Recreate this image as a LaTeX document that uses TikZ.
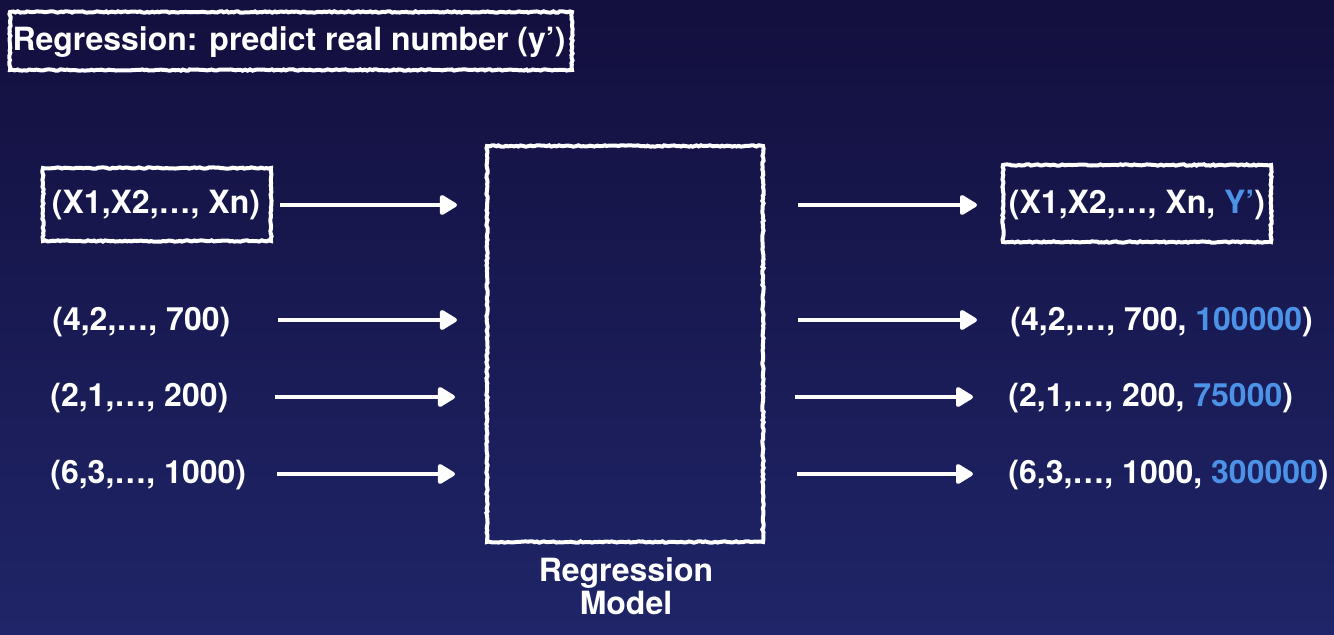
\documentclass[tikz,border=0pt]{standalone}
\usepackage{fontspec}
\setmainfont{TeX Gyre Heros}
\usetikzlibrary{arrows.meta,decorations.pathmorphing,calc}
\definecolor{bgtop}{HTML}{130F3E}
\definecolor{bgbot}{HTML}{1F2568}
\definecolor{ybl}{HTML}{4C92E6}
\tikzset{
  chalk/.style={draw=white, line width=2pt, decorate,
    decoration={random steps, segment length=1.2pt, amplitude=0.35pt}},
  txt/.style={text=white, font=\fontsize{16pt}{16.5pt}\selectfont\bfseries, inner sep=0pt},
  boxnode/.style={chalk, rectangle, inner sep=0pt},
  arr/.style={white, line width=2pt, -{Triangle[length=9.5pt,width=11pt,round]}},
}
\begin{document}
\begin{tikzpicture}[x=0.5pt,y=-0.5pt]
\useasboundingbox (0,0) rectangle (1334,635);
\shade[top color=bgtop, bottom color=bgbot] (0,0) rectangle (1334,635);

% title
\node[boxnode, minimum width=281pt, minimum height=29pt] (titlebox) at (291,41) {};
\node[txt] (title) at (289,42) {Regression: predict real number (y’)};

% model box
\node[boxnode, minimum width=138pt, minimum height=198pt] (model) at (625,344) {};
\node[txt, align=center] (modellabel) at (626,586) {Regression\\Model};

% input header
\node[boxnode, minimum width=114pt, minimum height=36.5pt] (inbox) at (157,204.5) {};
\node[txt] (intext) at (156,205) {(X1,X2,…, Xn)};

% output header
\node[boxnode, minimum width=134pt, minimum height=38.5pt] (outbox) at (1137,203.5) {};
\node[txt] (outtext) at (1137,205) {(X1,X2,…, Xn, \textcolor{ybl}{Y’})};

% input rows
\node[txt, anchor=west] (in1) at (52,322) {(4,2,…, 700)};
\node[txt, anchor=west] (in2) at (50,398) {(2,1,…, 200)};
\node[txt, anchor=west] (in3) at (50,475) {(6,3,…, 1000)};

% output rows
\node[txt, anchor=west] (out1) at (1010,322) {(4,2,…, 700, \textcolor{ybl}{100000})};
\node[txt, anchor=west] (out2) at (1008,398) {(2,1,…, 200, \textcolor{ybl}{75000})};
\node[txt, anchor=west] (out3) at (1008,475) {(6,3,…, 1000, \textcolor{ybl}{300000})};

% arrow endpoints
\coordinate (l0s) at (280,205); \coordinate (l0e) at (457,205);
\coordinate (l1s) at (278,320); \coordinate (l1e) at (457,320);
\coordinate (l2s) at (275,397); \coordinate (l2e) at (455,397);
\coordinate (l3s) at (277,474); \coordinate (l3e) at (455,474);
\coordinate (r0s) at (798,205); \coordinate (r0e) at (977,205);
\coordinate (r1s) at (798,320); \coordinate (r1e) at (977,320);
\coordinate (r2s) at (795,397); \coordinate (r2e) at (973,397);
\coordinate (r3s) at (797,474); \coordinate (r3e) at (973,474);

\foreach \a in {l0,l1,l2,l3,r0,r1,r2,r3}
  \draw[arr] (\a s) -- (\a e);
\end{tikzpicture}
\end{document}
